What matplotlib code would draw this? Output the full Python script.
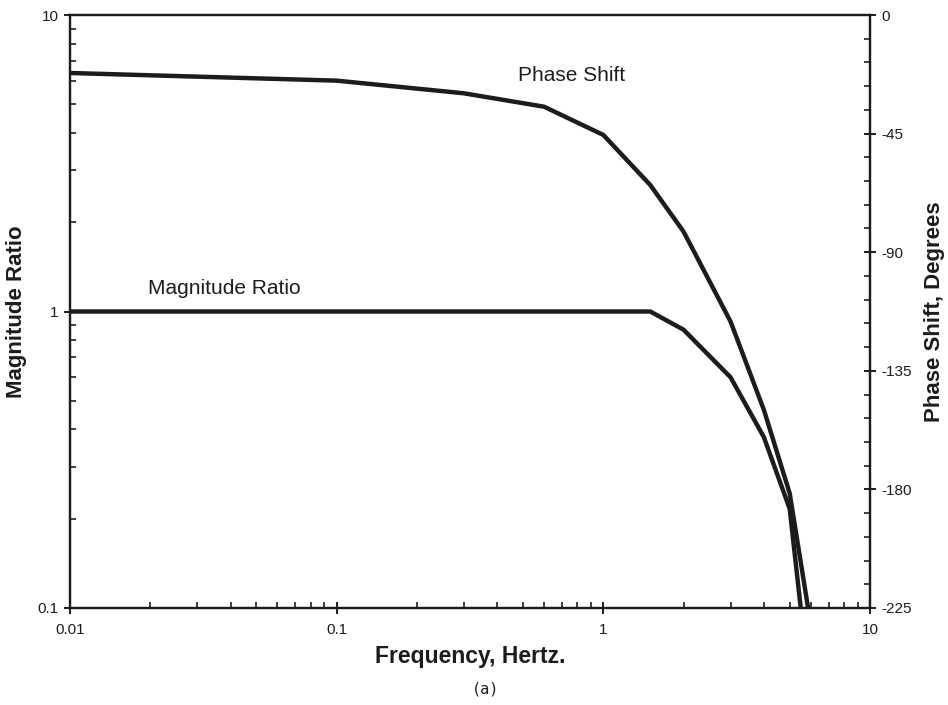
import matplotlib
matplotlib.use("Agg")
import matplotlib.pyplot as plt
from matplotlib.ticker import FixedLocator, MultipleLocator, NullFormatter

plt.rcParams['font.family'] = ['Liberation Sans', 'DejaVu Sans']
plt.rcParams['axes.unicode_minus'] = False

# Bode-type response: magnitude ratio (log) and phase shift (degrees)
mag_freq = [0.01, 0.1, 1.0, 1.5, 2.0, 3.0, 4.0, 5.0, 5.5]
mag_ratio = [1.0, 1.0, 1.0, 1.0, 0.868, 0.60, 0.377, 0.216, 0.1]

phase_freq = [0.01, 0.1, 0.3, 0.6, 1.0, 1.5, 2.0, 3.0, 4.0, 5.0, 5.86]
phase_deg = [-22.0, -24.9, -29.7, -34.8, -45.5, -64.5, -82.2, -116.3, -149.8, -181.5, -225.0]

x_ticks = [0.01, 0.1, 1, 10]
x_tick_labels = ['0.01', '0.1', '1', '10']
y_ticks = [0.1, 1, 10]
y_tick_labels = ['0.1', '1', '10']
phase_ticks = [0, -45, -90, -135, -180, -225]

ink = '#1c1c1c'

fig = plt.figure(figsize=(9.48, 7.05), dpi=100)
ax = fig.add_axes([0.0738, 0.1376, 0.8439, 0.8411])
ax2 = ax.twinx()

ax.plot(mag_freq, mag_ratio, color=ink, lw=3.2, solid_joinstyle='miter')
ax2.plot(phase_freq, phase_deg, color=ink, lw=3.2, solid_joinstyle='miter')

ax.set_xscale('log')
ax.set_yscale('log')
ax.set_xlim(0.01, 10)
ax.set_ylim(0.1, 10)
ax2.set_ylim(-225, 0)

ax.set_xticks(x_ticks)
ax.set_xticklabels(x_tick_labels)
ax.set_yticks(y_ticks)
ax.set_yticklabels(y_tick_labels)
ax.xaxis.set_minor_formatter(NullFormatter())
ax.yaxis.set_minor_formatter(NullFormatter())
ax2.yaxis.set_major_locator(FixedLocator(phase_ticks))
ax2.yaxis.set_minor_locator(MultipleLocator(9))

for a in (ax, ax2):
    for s in a.spines.values():
        s.set_linewidth(1.6)
        s.set_color(ink)

ax.tick_params(which='major', direction='inout', length=9, width=1.4, color=ink,
               labelsize=11, labelcolor=ink, top=False, right=False)
ax.tick_params(which='minor', direction='in', length=4, width=1.2, color=ink,
               top=False, right=False)
ax.tick_params(axis='x', which='major', pad=6)
ax2.tick_params(which='major', direction='inout', length=9, width=1.4, color=ink,
                labelsize=11, labelcolor=ink)
ax2.tick_params(which='minor', direction='in', length=4, width=1.2, color=ink)

ax.set_xlabel('Frequency, Hertz.', fontsize=16.5, fontweight='bold', color=ink, labelpad=6)
ax.set_ylabel('Magnitude Ratio', fontsize=16, fontweight='bold', color=ink)
ax2.set_ylabel('Phase Shift, Degrees', fontsize=16, fontweight='bold', color=ink)
ax.yaxis.set_label_coords(-0.054, 0.5)
ax2.yaxis.set_label_coords(1.068, 0.5)

ax.text(0.038, 1.2, 'Magnitude Ratio', fontsize=15, color=ink, ha='center', va='center')
ax2.text(0.76, -23.0, 'Phase Shift', fontsize=15, color=ink, ha='center', va='center')

fig.text(0.512, 0.022, '(a)', fontsize=11, color=ink, ha='center', va='center',
         family=['DejaVu Sans Mono', 'DejaVu Sans'])

fig.savefig('out.png', dpi=100)
